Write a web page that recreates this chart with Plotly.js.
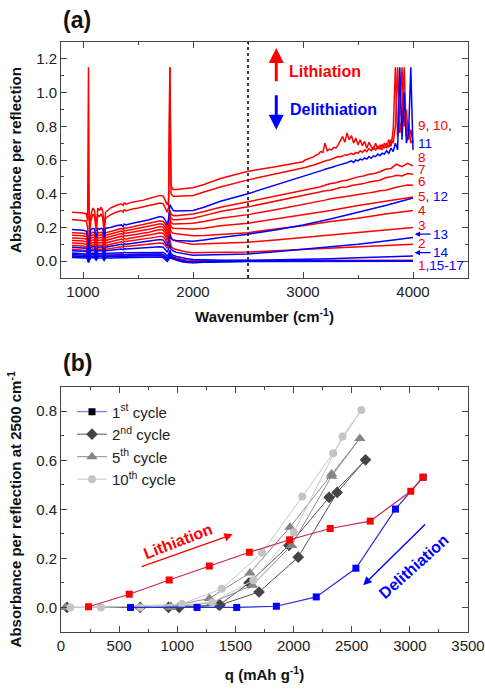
<!DOCTYPE html>
<html>
<head>
<meta charset="utf-8">
<script src="https://cdn.plot.ly/plotly-3.0.1.min.js"></script>
<style>
  html, body { margin: 0; padding: 0; background: #fff; }
  #chart { width: 485px; height: 689px; }
</style>
</head>
<body>
<div id="chart"></div>
<script>
// ---------- (a) IR spectra, absorbance per reflection vs wavenumber ----------
// Shared wavenumber grid below 3000 cm-1
const wn = [900, 950, 1000, 1030, 1042, 1050, 1058, 1070, 1090, 1105,
            1120, 1135, 1150, 1165, 1180, 1192, 1205, 1250, 1300, 1350,
            1365, 1375, 1390, 1450, 1500, 1550, 1600, 1650, 1700, 1730,
            1750, 1765, 1778, 1790, 1800, 1820, 1850, 1900, 1950, 2000,
            2100, 2250, 2500, 2750, 3000];
// Tail grids above 3000 cm-1 (smooth, wavy, noisy spectra)
const wnTail = [3250, 3500, 3750, 4000];
const wnWavy = [3050, 3100, 3150, 3200, 3250, 3300, 3350, 3400, 3450, 3500,
                3550, 3600, 3650, 3700, 3750, 3800, 3850, 3900, 3950, 4000];
const wnNoisy = [3020, 3040, 3060, 3080, 3100, 3120, 3140, 3160, 3180, 3200,
                 3220, 3240, 3260, 3280, 3300, 3320, 3340, 3360, 3380, 3400,
                 3420, 3440, 3460, 3480, 3500, 3520, 3540, 3560, 3580, 3600,
                 3620, 3640, 3660, 3680, 3700, 3720, 3740, 3760, 3780, 3800,
                 3820, 3840, 3860, 3880, 3900, 3920, 3940, 3960, 3980, 4000];

// Spectra 1-10 (lithiation, red) and 11-17 (delithiation, blue)
const s1 = [.03, .03, .029, .027, .02, .005, .018, .028, .031, .03,
            .018, .03, .03, .031, .029, .018, .03, .031, .032, .034,
            .031, .035, .034, .035, .036, .036, .037, .038, .038, .035,
            .027, .018, .028, .05, .033, .025, .018, .012, .006, .003,
            .003, .003, .003, .004, .004,
            .004, .005, .005, .005];
const s2 = [.07, .069, .068, .064, .052, .018, .045, .066, .073, .07,
            .04, .071, .07, .072, .068, .04, .07, .075, .081, .086,
            .082, .089, .087, .091, .094, .097, .10, .104, .108, .105,
            .092, .075, .095, .13, .09, .075, .068, .06, .054, .05,
            .051, .052, .054, .062, .07,
            .078, .085, .093, .10];
const s3 = [.093, .092, .09, .086, .07, .025, .062, .089, .097, .093,
            .05, .095, .093, .096, .09, .05, .093, .10, .108, .115,
            .109, .118, .116, .121, .125, .13, .135, .141, .148, .144,
            .128, .108, .13, .175, .138, .125, .118, .11, .104, .10,
            .102, .106, .112, .126, .14,
            .155, .17, .185, .20];
const s4 = [.108, .107, .105, .10, .082, .03, .072, .103, .112, .108,
            .06, .11, .108, .111, .105, .06, .108, .115, .124, .131,
            .125, .135, .132, .138, .143, .148, .154, .161, .168, .164,
            .147, .125, .152, .21, .175, .165, .162, .157, .153, .15,
            .152, .16, .169, .19, .21,
            .235, .255, .28, .30];
const s5 = [.123, .122, .12, .115, .095, .035, .085, .118, .127, .123,
            .07, .125, .123, .126, .12, .07, .123, .131, .14, .148,
            .141, .152, .149, .155, .16, .166, .172, .18, .187, .183,
            .165, .142, .17, .235, .205, .195, .194, .192, .19, .19,
            .195, .21, .225, .25, .275,
            .30, .33, .355, .38];
const s6 = [.138, .137, .135, .13, .11, .04, .10, .133, .142, .138,
            .08, .14, .138, .141, .135, .08, .138, .146, .156, .164,
            .157, .168, .165, .171, .176, .182, .189, .197, .205, .201,
            .183, .16, .188, .26, .23, .22, .22, .221, .223, .225,
            .235, .255, .276, .305, .335,
            .342, .35, .356, .362, .37, .374, .382, .386, .39, .395,
            .398, .405, .41, .418, .42, .43, .438, .445, .452, .45];
const s7 = [.153, .152, .15, .145, .125, .045, .115, .148, .157, .153,
            .095, .155, .153, .156, .15, .095, .153, .161, .171, .179,
            .172, .183, .18, .187, .192, .198, .205, .214, .222, .218,
            .20, .178, .205, .28, .255, .245, .245, .248, .251, .255,
            .27, .295, .322, .355, .39,
            .395, .40, .41, .418, .42, .43, .438, .44, .45, .455,
            .46, .47, .475, .48, .495, .50, .51, .505, .52, .515];
const s8 = [.168, .167, .165, .16, .14, .05, .13, .163, .172, .168,
            .11, .17, .168, .171, .165, .11, .168, .176, .186, .194,
            .187, .198, .195, .203, .209, .215, .223, .232, .24, .236,
            .218, .195, .225, .30, .28, .27, .27, .273, .276, .28,
            .295, .32, .352, .385, .42,
            .428, .435, .44, .45, .46, .465, .475, .48, .49, .50,
            .505, .515, .52, .53, .545, .55, .575, .56, .58, .565];
const s9 = [.247, .245, .243, .238, .20, .06, .15, .235, .28, .265,
            .18, .275, .265, .28, .255, .17, .255, .275, .29, .30,
            .29, .305, .298, .31, .315, .322, .33, .338, .345, .34,
            .315, .29, .32, 1.15, .40, .385, .385, .387, .388, .39,
            .41, .44, .482, .515, .55,
            .555, .56, .562, .568, .57, .575, .58, .585, .588, .592,
            .598, .60, .605, .61, .612, .62, .618, .625, .63, .628,
            .635, .64, .632, .645, .64, .655, .645, .66, .65, .668,
            .655, .675, .66, .68, .665, .69, .67, .70, .675, .72,
            .70, .80, 1.15, .76, .85, 1.15, .74, .82, .70, .72];
const s10 = [.29, .288, .285, .28, .24, 1.15, .09, .27, .315, .30,
             .21, .315, .30, .32, .295, .20, .29, .315, .33, .34,
             .33, .345, .338, .35, .355, .362, .372, .382, .39, .386,
             .362, .335, .36, 1.15, .445, .425, .425, .43, .432, .435,
             .455, .49, .533, .56, .59,
             .60, .605, .61, .615, .62, .63, .635, .65, .645, .70,
             .655, .665, .66, .675, .67, .69, .72, .74, .705, .76,
             .72, .745, .70, .73, .69, .72, .685, .71, .67, .705,
             .68, .66, .70, .665, .69, .66, .70, .67, .72, .68,
             .78, 1.15, .74, .86, 1.15, .80, .90, .72, .78, .70];
const s11 = [.188, .186, .183, .178, .15, .04, .13, .185, .195, .19,
             .14, .195, .19, .195, .19, .14, .195, .20, .21, .215,
             .205, .22, .215, .225, .23, .238, .245, .255, .265, .26,
             .24, .215, .25, .335, .32, .30, .298, .298, .299, .30,
             .32, .355, .40, .45, .50,
             .505, .51, .513, .518, .52, .525, .53, .534, .54, .545,
             .548, .552, .556, .56, .565, .568, .572, .576, .58, .584,
             .59, .595, .585, .60, .595, .605, .60, .612, .605, .62,
             .61, .625, .62, .635, .625, .64, .635, .655, .64, .67,
             .65, .70, .66, 1.15, .72, 1.0, .70, .76, 1.15, .66];
const s12 = [.083, .082, .08, .076, .062, .02, .055, .079, .086, .083,
             .045, .085, .083, .085, .08, .045, .083, .089, .095, .10,
             .095, .103, .101, .106, .109, .113, .117, .122, .128, .125,
             .11, .092, .115, .16, .135, .125, .122, .12, .118, .118,
             .125, .14, .16, .185, .215,
             .25, .29, .33, .375];
const s13 = [.062, .061, .06, .057, .045, .012, .04, .059, .064, .062,
             .035, .063, .062, .063, .06, .035, .062, .065, .069, .072,
             .068, .074, .072, .075, .077, .079, .081, .083, .085, .082,
             .07, .055, .07, .10, .072, .06, .052, .045, .039, .035,
             .037, .04, .043, .055, .07,
             .085, .10, .12, .14];
const s14 = [.048, .047, .046, .043, .034, .008, .03, .045, .048, .046,
             .028, .047, .046, .047, .045, .028, .046, .047, .049, .05,
             .047, .052, .05, .051, .052, .053, .054, .055, .055, .052,
             .042, .03, .042, .065, .045, .035, .028, .02, .014, .01,
             .008, .006, .005, .007, .01,
             .014, .02, .025, .03];
const s15 = [.04, .039, .038, .035, .025, 0, .02, .036, .039, .037,
             .02, .038, .037, .038, .036, .015, .036, .037, .038, .039,
             .036, .04, .039, .04, .04, .041, .041, .042, .042, .038,
             .028, .015, .025, .045, .03, .02, .012, .004, -.002, -.005,
             -.003, -.001, 0, 0, 0,
             0, 0, .001, .002];
const s16 = [.03, .029, .028, .026, .018, -.005, .012, .026, .029, .027,
             .012, .028, .027, .028, .026, .008, .026, .027, .028, .029,
             .026, .03, .029, .03, .03, .031, .031, .032, .032, .028,
             .018, .005, .015, .035, .022, .015, .007, -.002, -.006, -.008,
             -.005, -.002, 0, 0, 0,
             -.001, 0, 0, .001];
const s17 = [.022, .021, .02, .018, .012, -.008, .006, .018, .021, .019,
             .006, .02, .019, .02, .018, .004, .018, .019, .02, .021,
             .018, .022, .021, .022, .022, .023, .024, .025, .025, .02,
             .01, -.002, .008, .025, .016, .012, .004, -.004, -.008, -.01,
             -.007, -.004, -.002, -.002, -.002,
             -.002, -.002, -.001, 0];

const spectra = [s1, s2, s3, s4, s5, s6, s7, s8, s9, s10, s11, s12, s13, s14, s15, s16, s17];
// tail grid used by each spectrum: 't' smooth, 'w' wavy, 'n' noisy
const spectrumTail = ['t', 't', 't', 't', 't', 'w', 'w', 'w', 'n', 'n', 'n', 't', 't', 't', 't', 't', 't'];
const probeWn = 2500;   // wavenumber used in panel (b)

// ---------- (b) absorbance at 2500 cm-1 vs capacity ----------
const c1LithQ = [237, 587, 930, 1276, 1620, 1966, 2315, 2659, 3008, 3114];
const c1LithA = [0.003, 0.054, 0.112, 0.169, 0.225, 0.276, 0.322, 0.352, 0.474, 0.531];
const c1DelithQ = [3114, 2876, 2536, 2195, 1852, 1511, 1170, 598];
const c1DelithA = [0.531, 0.401, 0.160, 0.043, 0.005, 0, 0, 0];
const c2Q = [52, 681, 1016, 1359, 1617, 1960, 2306, 2619, 2375, 2040, 1703, 1368, 924];
const c2A = [0, 0, 0, 0.009, 0.10, 0.253, 0.449, 0.602, 0.469, 0.205, 0.063, 0.01, 0];
const c5Q = [37, 944, 1276, 1625, 1969, 2327, 2570, 2327, 1983, 1646, 1300, 944];
const c5A = [0, 0.005, 0.037, 0.141, 0.327, 0.544, 0.689, 0.535, 0.253, 0.091, 0.02, 0];
const c10Q = [80, 343, 1039, 1382, 1729, 2075, 2341, 2583, 2421, 2003, 1654, 1300, 681];
const c10A = [0, 0, 0.014, 0.076, 0.223, 0.452, 0.629, 0.805, 0.697, 0.307, 0.111, 0.02, 0];
const cycleNames = ['1<sup>st</sup> cycle', '2<sup>nd</sup> cycle', '5<sup>th</sup> cycle', '10<sup>th</sup> cycle'];

const RED = '#ff0000', BLUE = '#0000ff';
const FONT = 'Liberation Sans, Arial, Helvetica, sans-serif';

const traces = [];
spectra.forEach((ys, i) => {
  const tail = spectrumTail[i] === 'n' ? wnNoisy : (spectrumTail[i] === 'w' ? wnWavy : wnTail);
  traces.push({
    type: 'scatter', mode: 'lines', xaxis: 'x', yaxis: 'y',
    x: wn.concat(tail), y: ys,
    line: { color: i < 10 ? RED : BLUE, width: 1.5 },
    showlegend: false, hoverinfo: 'skip'
  });
});

// grey cycles
const greyCycles = [
  { q: c2Q, a: c2A, name: cycleNames[1], sym: 'diamond', mc: '#444444', lc: '#555555', size: 9 },
  { q: c5Q, a: c5A, name: cycleNames[2], sym: 'triangle-up', mc: '#858585', lc: '#8c8c8c', size: 10 },
  { q: c10Q, a: c10A, name: cycleNames[3], sym: 'circle', mc: '#c4c4c4', lc: '#c8c8c8', size: 8 }
];
greyCycles.forEach((c, k) => {
  traces.push({
    type: 'scatter', mode: 'lines+markers', xaxis: 'x2', yaxis: 'y2',
    x: c.q, y: c.a, name: c.name, legendrank: k + 2,
    line: { color: c.lc, width: 1 },
    marker: { symbol: c.sym, size: c.size, color: c.mc, line: { width: 0 } },
    cliponaxis: false
  });
});
// first cycle
traces.push({
  type: 'scatter', mode: 'lines+markers', xaxis: 'x2', yaxis: 'y2',
  x: c1DelithQ, y: c1DelithA, showlegend: false,
  line: { color: '#2a2ae0', width: 1.2 },
  marker: { symbol: 'square', size: 7, color: BLUE, line: { width: 0 } }
});
traces.push({
  type: 'scatter', mode: 'lines+markers', xaxis: 'x2', yaxis: 'y2',
  x: c1LithQ, y: c1LithA, showlegend: false,
  line: { color: '#cc2255', width: 1.2 },
  marker: { symbol: 'square', size: 7, color: RED, line: { width: 0 } }
});
// legend entry for the first cycle
traces.push({
  type: 'scatter', mode: 'lines+markers', xaxis: 'x2', yaxis: 'y2',
  x: [null], y: [null], name: cycleNames[0], legendrank: 1,
  line: { color: '#7a7aff', width: 1.2 },
  marker: { symbol: 'square', size: 7, color: '#000000' }
});

const axisCommon = {
  showline: true, linecolor: '#444', linewidth: 1, mirror: 'allticks',
  ticks: 'inside', ticklen: 6, tickcolor: '#444', tickwidth: 1,
  showgrid: false, zeroline: false,
  tickfont: { size: 15, family: FONT, color: '#222' }
};

const rightLabels = [
  { t: '<span style="color:#ff0000">9</span>, <span style="color:#ff0000">10</span>,', y: 0.803 },
  { t: '<span style="color:#0000ff">11</span>', y: 0.70 },
  { t: '<span style="color:#ff0000">8</span>', y: 0.615 },
  { t: '<span style="color:#ff0000">7</span>', y: 0.543 },
  { t: '<span style="color:#ff0000">6</span>', y: 0.474 },
  { t: '<span style="color:#ff0000">5</span>, <span style="color:#0000ff">12</span>', y: 0.385 },
  { t: '<span style="color:#ff0000">4</span>', y: 0.302 },
  { t: '<span style="color:#ff0000">3</span>', y: 0.211 },
  { t: '<span style="color:#ff0000">2</span>', y: 0.105 },
  { t: '<span style="color:#ff0000">1</span><span style="color:#0000ff">,15-17</span>', y: -0.024 }
];

const annotations = rightLabels.map(l => ({
  xref: 'x', yref: 'y', x: 4030, y: l.y, text: l.t, showarrow: false,
  xanchor: 'left', yanchor: 'middle', font: { size: 13.5, family: FONT }
}));
[['13', 0.16], ['14', 0.05]].forEach(([t, y]) => annotations.push({
  xref: 'x', yref: 'y', x: 4015, y: y, axref: 'x', ayref: 'y', ax: 4160, ay: y,
  text: t, showarrow: true, arrowhead: 2, arrowsize: 0.9, arrowwidth: 1.2,
  arrowcolor: BLUE, xanchor: 'left', yanchor: 'middle',
  font: { size: 13.5, family: FONT, color: BLUE }
}));

// panel (a) direction arrows and labels
annotations.push(
  { xref: 'x', yref: 'y', x: 2757, y: 1.265, axref: 'x', ayref: 'y', ax: 2757, ay: 1.058,
    text: '', showarrow: true, arrowhead: 2, arrowsize: 1, arrowwidth: 3, arrowcolor: RED },
  { xref: 'x', yref: 'y', x: 2757, y: 0.78, axref: 'x', ayref: 'y', ax: 2757, ay: 0.993,
    text: '', showarrow: true, arrowhead: 2, arrowsize: 1, arrowwidth: 3, arrowcolor: BLUE },
  { xref: 'x', yref: 'y', x: 3196, y: 1.123, text: '<b>Lithiation</b>', showarrow: false,
    font: { size: 16, family: FONT, color: RED } },
  { xref: 'x', yref: 'y', x: 3273, y: 0.898, text: '<b>Delithiation</b>', showarrow: false,
    font: { size: 16, family: FONT, color: BLUE } }
);
// panel (b) direction arrows and labels
annotations.push(
  { xref: 'x2', yref: 'y2', x: 1477, y: 0.298, axref: 'x2', ayref: 'y2', ax: 681, ay: 0.164,
    text: '', showarrow: true, arrowhead: 2, arrowsize: 1.2, arrowwidth: 1.4, arrowcolor: RED },
  { xref: 'x2', yref: 'y2', x: 2599, y: 0.0906, axref: 'x2', ayref: 'y2', ax: 3143, ay: 0.344,
    text: '', showarrow: true, arrowhead: 2, arrowsize: 1.2, arrowwidth: 1.4, arrowcolor: BLUE },
  { xref: 'x2', yref: 'y2', x: 1003, y: 0.269, text: '<b>Lithiation</b>', showarrow: false,
    textangle: -21, font: { size: 16, family: FONT, color: RED } },
  { xref: 'x2', yref: 'y2', x: 3034, y: 0.168, text: '<b>Delithiation</b>', showarrow: false,
    textangle: -42, font: { size: 16, family: FONT, color: BLUE } }
);
// panel letters
annotations.push(
  { xref: 'paper', yref: 'paper', x: 0, y: 1.037, xanchor: 'left', yanchor: 'middle',
    text: '<b>(a)</b>', showarrow: false, font: { size: 23, family: FONT, color: '#111' } },
  { xref: 'paper', yref: 'paper', x: 0, y: 0.456, xanchor: 'left', yanchor: 'middle',
    text: '<b>(b)</b>', showarrow: false, font: { size: 23, family: FONT, color: '#111' } }
);

const layout = {
  width: 485, height: 689,
  margin: { l: 61, r: 17, t: 42, b: 57 },
  paper_bgcolor: '#fff', plot_bgcolor: '#fff',
  font: { family: FONT, size: 15, color: '#222' },
  showlegend: true,
  legend: {
    x: 0.027, y: 0.401, xanchor: 'left', yanchor: 'top',
    bgcolor: 'rgba(0,0,0,0)', borderwidth: 0,
    font: { size: 15, family: FONT, color: '#222' },
    tracegroupgap: 0
  },
  xaxis: Object.assign({}, axisCommon, {
    domain: [0, 1], anchor: 'y', range: [800, 4500], tick0: 0, dtick: 1000,
    minor: { dtick: 500, ticklen: 3, ticks: 'inside', tickcolor: '#444' },
    title: { text: '<b>Wavenumber (cm<sup>-1</sup>)</b>', standoff: 12,
             font: { size: 15, family: FONT, color: '#111' } }
  }),
  yaxis: Object.assign({}, axisCommon, {
    domain: [0.6, 1], anchor: 'x', range: [-0.1, 1.3], tick0: 0, dtick: 0.2, tickformat: '.1f',
    minor: { dtick: 0.1, ticklen: 3, ticks: 'inside', tickcolor: '#444' },
    title: { text: '<b>Absorbance per reflection</b>', standoff: 10,
             font: { size: 15, family: FONT, color: '#111' } }
  }),
  xaxis2: Object.assign({}, axisCommon, {
    domain: [0, 1], anchor: 'y2', range: [0, 3500], tick0: 0, dtick: 500,
    minor: { dtick: 250, ticklen: 3, ticks: 'inside', tickcolor: '#444' },
    title: { text: '<b>q (mAh g<sup>-1</sup>)</b>', standoff: 16,
             font: { size: 15, family: FONT, color: '#111' } }
  }),
  yaxis2: Object.assign({}, axisCommon, {
    domain: [0, 0.4158], anchor: 'x2', range: [-0.1, 0.9], tick0: 0, dtick: 0.2, tickformat: '.1f',
    minor: { dtick: 0.1, ticklen: 3, ticks: 'inside', tickcolor: '#444' },
    title: { text: '<b>Absorbance per reflection at 2500 cm<sup>-1</sup></b>', standoff: 10,
             font: { size: 15, family: FONT, color: '#111' } }
  }),
  shapes: [{
    type: 'line', xref: 'x', yref: 'y domain', x0: probeWn, x1: probeWn, y0: 0, y1: 1,
    line: { color: '#000', width: 1.5, dash: 'dot' }
  }],
  annotations: annotations
};

Plotly.newPlot('chart', traces, layout, { staticPlot: true, displayModeBar: false });
</script>
</body>
</html>
